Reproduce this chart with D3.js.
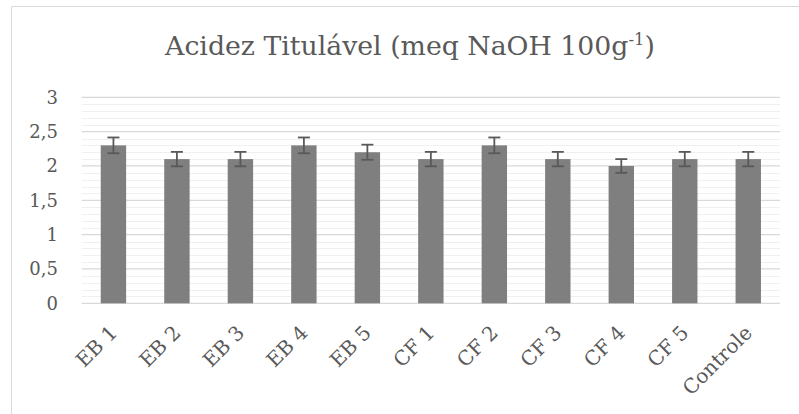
<!DOCTYPE html>
<html><head><meta charset="utf-8">
<script src="https://cdn.jsdelivr.net/npm/d3@7"></script>
<style>body{margin:0;background:#fff}svg{display:block}text{font-family:"DejaVu Serif","Liberation Serif",serif;fill:#595959}</style>
</head><body><svg id="c" width="799" height="414"></svg>
<script>
const categories = ["EB 1","EB 2","EB 3","EB 4","EB 5","CF 1","CF 2","CF 3","CF 4","CF 5","Controle"];
const values = [2.3, 2.1, 2.1, 2.3, 2.2, 2.1, 2.3, 2.1, 2.0, 2.1, 2.1];
const errors = [0.115, 0.105, 0.105, 0.115, 0.11, 0.105, 0.115, 0.105, 0.1, 0.105, 0.105];
const yTicks = [0, 0.5, 1, 1.5, 2, 2.5, 3];
const yTickLabels = ["0","0,5","1","1,5","2","2,5","3"];
const minorTicks = d3.range(0, 31).map(i => i / 10);

const svg = d3.select("#c");
const m = {l: 81.7, r: 780, t: 97.3, b: 303.3};
const x = d3.scaleBand().domain(categories).range([m.l, m.r]).paddingInner(0.6).paddingOuter(0.3);
const y = d3.scaleLinear().domain([0, 3]).range([m.b, m.t]);

// chart border
svg.append("line").attr("x1",11.5).attr("x2",799).attr("y1",6.5).attr("y2",6.5).attr("stroke","#d9d9d9").attr("stroke-width",1);
svg.append("line").attr("x1",11.5).attr("x2",11.5).attr("y1",6.5).attr("y2",414).attr("stroke","#d9d9d9").attr("stroke-width",1);

// minor grid
svg.append("g").selectAll("line").data(minorTicks.filter(v => Math.round(v*10)%5 !== 0)).join("line")
  .attr("x1", m.l).attr("x2", m.r).attr("y1", d => Math.round(y(d))+0.5).attr("y2", d => Math.round(y(d))+0.5)
  .attr("stroke", "#f0f0f0").attr("stroke-width", 1);
// major grid
svg.append("g").selectAll("line").data(yTicks).join("line")
  .attr("x1", m.l).attr("x2", m.r).attr("y1", d => y(d)).attr("y2", d => y(d))
  .attr("stroke", "#d9d9d9").attr("stroke-width", 1.3);

// y labels
svg.append("g").selectAll("text").data(yTicks).join("text")
  .attr("x", 58).attr("y", d => y(d)).attr("dy", "0.35em").attr("text-anchor", "end")
  .style("font-size", "18px").text((d, i) => yTickLabels[i]);

// bars
svg.append("g").selectAll("rect").data(values).join("rect")
  .attr("x", (d, i) => x(categories[i])).attr("width", x.bandwidth())
  .attr("y", d => y(d)).attr("height", d => y(0) - y(d))
  .attr("fill", "#7f7f7f");

// error bars
const eg = svg.append("g").attr("stroke", "#595959").attr("stroke-width", 1.8).attr("fill", "none");
values.forEach((v, i) => {
  const cx = x(categories[i]) + x.bandwidth() / 2;
  const y1 = y(v + errors[i]), y2 = y(v - errors[i]);
  eg.append("line").attr("x1", cx).attr("x2", cx).attr("y1", y1).attr("y2", y2);
  eg.append("line").attr("x1", cx - 6).attr("x2", cx + 6).attr("y1", y1).attr("y2", y1);
  eg.append("line").attr("x1", cx - 6).attr("x2", cx + 6).attr("y1", y2).attr("y2", y2);
});

// x labels
svg.append("g").selectAll("text").data(categories).join("text")
  .attr("text-anchor", "end")
  .attr("transform", d => `translate(${x(d) + x.bandwidth()/2 + 5},${334}) rotate(-45)`)
  .style("font-size", "20px").text(d => d);

// title
const t = svg.append("text").attr("x", 410).attr("y", 55).attr("text-anchor", "middle").style("font-size", "26px");
t.append("tspan").text("Acidez Titulável (meq NaOH 100g");
t.append("tspan").attr("dy", -10).style("font-size", "16px").text("-1");
t.append("tspan").attr("dy", 10).text(")");
const w = t.node().getComputedTextLength();
t.style("font-size", (26 * 490 / w) + "px");
t.selectAll("tspan").filter((d, i) => i === 1).style("font-size", (16 * 490 / w) + "px");
</script></body></html>
